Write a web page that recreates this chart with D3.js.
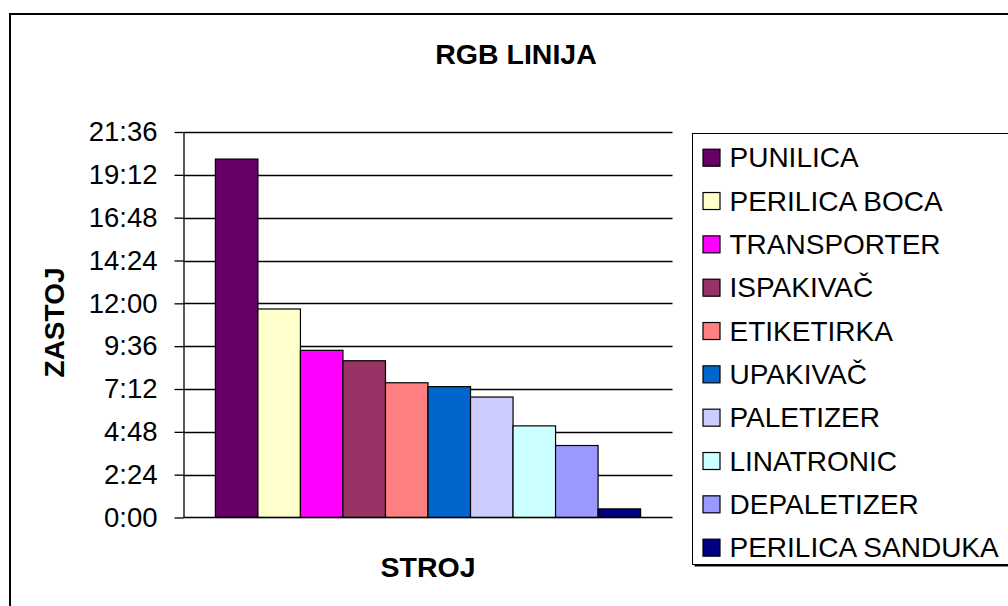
<!DOCTYPE html>
<html>
<head>
<meta charset="utf-8">
<script src="https://cdn.jsdelivr.net/npm/d3@7"></script>
<style>
  html, body { margin: 0; padding: 0; background: #fff; }
  svg { display: block; font-family: "Liberation Sans", Arial, sans-serif; }
</style>
</head>
<body>
<svg id="chart" width="1008" height="606"></svg>
<script>
// ---- data ----
const categories = ["PUNILICA", "PERILICA BOCA", "TRANSPORTER", "ISPAKIVAČ", "ETIKETIRKA",
                    "UPAKIVAČ", "PALETIZER", "LINATRONIC", "DEPALETIZER", "PERILICA SANDUKA"];
// downtime in minutes
const valuesMin = [1205, 701, 562, 527, 453, 440, 405, 308, 242, 29];
const colors = ["#660066", "#FFFFCC", "#FF00FF", "#993366", "#FF8080",
                "#0066CC", "#CCCCFF", "#CCFFFF", "#9999FF", "#000080"];
const tickValuesMin = [0, 144, 288, 432, 576, 720, 864, 1008, 1152, 1296];
const titleText = "RGB LINIJA";
const yTitle = "ZASTOJ";
const xTitle = "STROJ";

// ---- layout ----
const svg = d3.select("#chart");
const plot = { left: 183.5, right: 672.5, top: 132, bottom: 517.5 };

// outer chart border
svg.append("rect")
  .attr("x", 10).attr("y", 14).attr("width", 1100).attr("height", 700)
  .attr("fill", "#fff").attr("stroke", "#000").attr("stroke-width", 2);

const y = d3.scaleLinear().domain([0, 1296]).range([plot.bottom, plot.top]);
const x = d3.scaleBand().domain(categories).range([plot.left, plot.right])
  .paddingInner(0).paddingOuter(0.75);

const fmt = m => Math.floor(m / 60) + ":" + String(m % 60).padStart(2, "0");

// gridlines
svg.append("g").selectAll("line").data(tickValuesMin.filter(d => d > 0)).join("line")
  .attr("x1", plot.left).attr("x2", plot.right)
  .attr("y1", d => Math.round(y(d)) + 0.5).attr("y2", d => Math.round(y(d)) + 0.5)
  .attr("stroke", "#000").attr("stroke-width", 1.3);

// bars
svg.append("g").selectAll("rect").data(categories).join("rect")
  .attr("x", d => x(d))
  .attr("y", (d, i) => y(valuesMin[i]))
  .attr("width", x.bandwidth())
  .attr("height", (d, i) => y(0) - y(valuesMin[i]))
  .attr("fill", (d, i) => colors[i])
  .attr("stroke", "#000").attr("stroke-width", 1.2);

// y axis
const yAxis = d3.axisLeft(y).tickValues(tickValuesMin).tickFormat(fmt)
  .tickSize(9).tickPadding(17).tickSizeOuter(0);
const gy = svg.append("g").attr("transform", `translate(${plot.left},0)`).call(yAxis);
gy.select(".domain").attr("stroke", "#000").attr("stroke-width", 1.3);
gy.selectAll(".tick line").attr("stroke", "#000").attr("stroke-width", 1.3);
gy.selectAll(".tick text").attr("font-size", 27.5).attr("fill", "#000")
  .attr("font-family", "'Liberation Sans', Arial, sans-serif");

// x axis line
svg.append("line")
  .attr("x1", plot.left).attr("x2", plot.right)
  .attr("y1", y(0)).attr("y2", y(0))
  .attr("stroke", "#000").attr("stroke-width", 1.6);

// titles
svg.append("text").attr("x", 516).attr("y", 64).attr("text-anchor", "middle")
  .attr("font-size", 28.5).attr("font-weight", "bold").text(titleText);
svg.append("text").attr("transform", "translate(63.5,322.5) rotate(-90)")
  .attr("text-anchor", "middle").attr("font-size", 28).attr("font-weight", "bold").text(yTitle);
svg.append("text").attr("x", 428).attr("y", 577).attr("text-anchor", "middle")
  .attr("font-size", 28.5).attr("font-weight", "bold").text(xTitle);

// legend
const leg = svg.append("g");
leg.append("rect").attr("x", 694.5).attr("y", 135.5).attr("width", 400).attr("height", 431)
  .attr("fill", "#000");
leg.append("rect").attr("x", 692.5).attr("y", 133.5).attr("width", 400).attr("height", 431)
  .attr("fill", "#fff").attr("stroke", "#000").attr("stroke-width", 1);
const step = 43.33;
const items = leg.selectAll("g.item").data(categories).join("g")
  .attr("transform", (d, i) => `translate(0,${157.7 + i * step})`);
items.append("rect").attr("x", 703).attr("y", -8.5).attr("width", 17).attr("height", 17)
  .attr("fill", (d, i) => colors[i]).attr("stroke", "#000").attr("stroke-width", 1.2);
items.append("text").attr("x", 729.5).attr("y", 9.5).attr("font-size", 28).attr("fill", "#000")
  .text(d => d);
</script>
</body>
</html>
